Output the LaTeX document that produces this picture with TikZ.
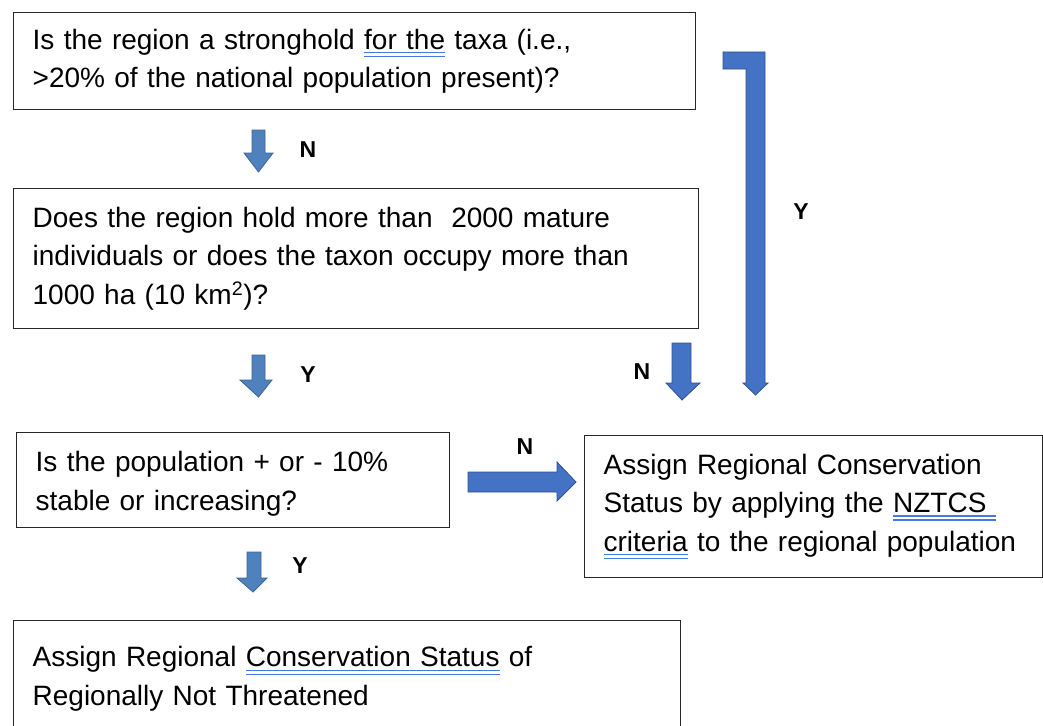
\documentclass[tikz,border=0pt]{standalone}
\usepackage{fontspec}
\setmainfont{Liberation Sans}
\definecolor{arrowblue}{RGB}{79,129,189}
\definecolor{arrowedge}{RGB}{60,100,150}
\definecolor{blockblue}{RGB}{68,114,196}
\definecolor{blockedge}{RGB}{47,82,143}
\definecolor{gramblue}{RGB}{70,120,225}
\newsavebox{\gramtext}
\newcommand{\gramul}[1]{\leavevmode\sbox{\gramtext}{#1}%
  \rlap{\textcolor{gramblue}{\rule[-4pt]{\wd\gramtext}{1.4pt}}}%
  \rlap{\textcolor{gramblue}{\rule[-8pt]{\wd\gramtext}{1.4pt}}}%
  \usebox{\gramtext}}

\begin{document}
\begin{tikzpicture}[x=1pt,y=-1pt,
  box/.style={draw=black!85, line width=1.3pt, anchor=north west, align=left,
    inner xsep=19pt, inner ysep=0pt, font=\fontsize{28}{38.5}\selectfont},
  yn/.style={font=\fontsize{23}{23}\selectfont\bfseries},
  blkleft/.style={fill=arrowblue, draw=arrowedge, line width=0.8pt},
  blkright/.style={fill=blockblue, draw=blockedge, line width=0.8pt}]
\useasboundingbox (0,0) rectangle (1043,725);
\clip (0,0) rectangle (1043,725);

% Boxes
\node[box, text width=644pt, minimum height=97pt] (stronghold) at (13,12)
  {Is the region a stronghold \gramul{for the} taxa (i.e.,\\
   >20\% of the national population present)?};
\node[box, text width=647pt, minimum height=140pt] (mature) at (13,188)
  {Does the region hold more than\ \ 2000 mature\\
   individuals or does the taxon occupy more than\\
   1000 ha (10 km\textsuperscript{2})?};
\node[box, text width=395pt, minimum height=95pt] (stable) at (16,432)
  {\rule{0pt}{27pt}Is the population + or - 10\%\\
   stable or increasing?};
\node[box, text width=420pt, minimum height=142pt] (nztcs) at (584,435)
  {Assign Regional Conservation\\
   Status by applying the \gramul{NZTCS\ }\\
   \gramul{criteria} to the regional population};
\node[box, text width=629pt, inner ysep=26pt] (notthreat) at (13,620)
  {Assign Regional \gramul{Conservation Status} of\\
   Regionally Not Threatened\\ \strut};

% Block arrows
\filldraw[blkleft] (252,130) -- (265,130) -- (265,153) -- (273,153)
  -- (258.5,172) -- (244,153) -- (252,153) -- cycle;
\filldraw[blkleft] (252,355) -- (265,355) -- (265,380) -- (272,380)
  -- (258.5,397) -- (240,380) -- (252,380) -- cycle;
\filldraw[blkleft] (247,552) -- (261,552) -- (261,578) -- (267,578)
  -- (253,592) -- (237,578) -- (247,578) -- cycle;
\filldraw[blkright] (672,343) -- (691,343) -- (691,383) -- (700,383)
  -- (682,400) -- (666,383) -- (672,383) -- cycle;
\filldraw[blkright] (723,52) -- (765,52) -- (765,383) -- (768,383)
  -- (755.5,395) -- (743,383) -- (746,383) -- (746,69) -- (723,69) -- cycle;
\filldraw[blkright] (468,472) -- (557,472) -- (557,462) -- (576,482)
  -- (557,501) -- (557,492) -- (468,492) -- cycle;

% Labels
\node[yn] (n1) at (308,150) {N};
\node[yn] (y1) at (308,375) {Y};
\node[yn] (y2) at (300,566) {Y};
\node[yn] (n2) at (642,372) {N};
\node[yn] (y3) at (801,212) {Y};
\node[yn] (n3) at (525,447) {N};
\end{tikzpicture}
\end{document}
